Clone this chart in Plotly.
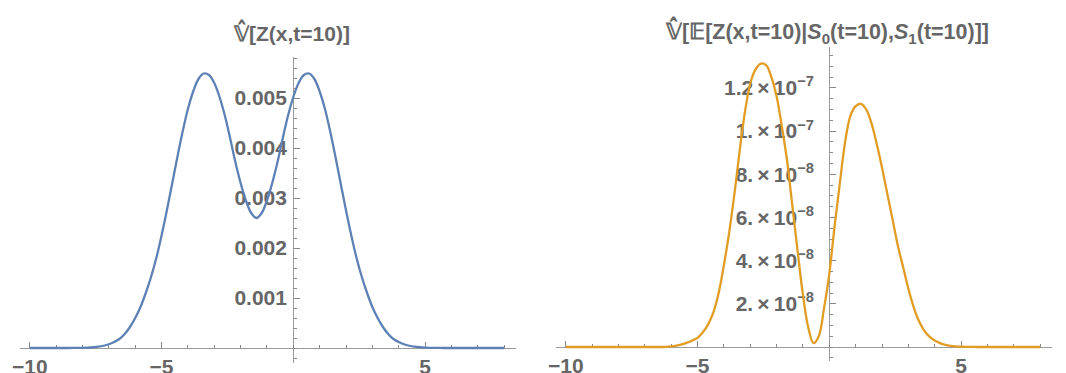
import plotly.graph_objects as go

# sampling grid in x (step 0.2 from -10 to 8)
x_grid = [round(-10 + 0.2 * i, 1) for i in range(91)]

# left panel: variance of Z(x, t=10), values in units of 1e-3
left_e3 = [0, 0, 0, 0, 0, 0, 0, 0,
           0.001, 0.002, 0.004, 0.008, 0.015, 0.026, 0.045, 0.075, 0.12, 0.18,
           0.28, 0.42, 0.60, 0.82, 1.10, 1.42, 1.80, 2.25, 2.75, 3.28,
           3.82, 4.33, 4.78, 5.13, 5.38, 5.49, 5.46, 5.30, 5.02, 4.65,
           4.20, 3.72, 3.30, 2.95, 2.70, 2.60, 2.70, 2.95, 3.30, 3.72,
           4.20, 4.65, 5.02, 5.30, 5.46, 5.49, 5.38, 5.13, 4.78, 4.33,
           3.82, 3.28, 2.75, 2.25, 1.80, 1.42, 1.10, 0.82, 0.60, 0.42,
           0.28, 0.18, 0.12, 0.075, 0.045, 0.026, 0.015, 0.008, 0.004, 0.002,
           0.001,
           0, 0, 0, 0, 0, 0, 0, 0, 0, 0, 0, 0]

# right panel: variance of conditional expectation, values in units of 1e-8
right_e8 = [0] * 19 + [
    0.01, 0.03, 0.06, 0.12, 0.2, 0.3, 0.42,
    0.68, 1.05, 1.6, 2.5, 3.8, 5.3, 7.1, 9.1, 10.9, 12.2,
    12.85, 13.12, 13.05, 12.5, 11.6, 10.2, 8.6, 6.5, 4.4, 2.4,
    0.9, 0.18, 0.5, 1.8, 3.4, 5.6, 7.6, 9.5, 10.7, 11.15,
    11.26, 11.0, 10.35, 9.4, 8.3, 7.1, 5.9, 4.7, 3.7, 2.7,
    1.85, 1.2, 0.76, 0.48, 0.3, 0.18, 0.1, 0.055, 0.03, 0.015,
    0.007, 0.003] + [0] * 13

left_y = [v * 1e-3 for v in left_e3]
right_y = [v * 1e-8 for v in right_e8]

x_ticks = [-10, -5, 5]
x_ticktext = ["\u221210", "\u22125", "5"]
left_yticks = [0.001, 0.002, 0.003, 0.004, 0.005]
left_yticktext = ["0.001", "0.002", "0.003", "0.004", "0.005"]
right_yticks = [2e-8, 4e-8, 6e-8, 8e-8, 1e-7, 1.2e-7]
right_yticktext = ["2.\u2009\u00d7\u200910<sup>\u22128</sup>", "4.\u2009\u00d7\u200910<sup>\u22128</sup>",
                   "6.\u2009\u00d7\u200910<sup>\u22128</sup>", "8.\u2009\u00d7\u200910<sup>\u22128</sup>",
                   "1.\u2009\u00d7\u200910<sup>\u22127</sup>", "1.2\u2009\u00d7\u200910<sup>\u22127</sup>"]

W, H = 1066, 373
GRAY = "#666666"
AX = "#9a9a9a"
FONT = "Liberation Sans, Arial, sans-serif"

fig = go.Figure()
fig.add_trace(go.Scatter(x=x_grid, y=left_y, mode="lines",
                         line=dict(color="#5E81B5", width=2.3, shape="spline", smoothing=1.0),
                         xaxis="x", yaxis="y", showlegend=False))
fig.add_trace(go.Scatter(x=x_grid, y=right_y, mode="lines",
                         line=dict(color="#E19C24", width=2.3, shape="spline", smoothing=1.0),
                         xaxis="x2", yaxis="y2", showlegend=False))

tickfont = dict(family=FONT, size=21, color=GRAY, weight="bold")

def xaxis_cfg(domain, pos):
    return dict(domain=domain, range=[-10.38, 8.45], anchor="free", position=pos,
                automargin=False,
                showgrid=False, zeroline=False, showline=True, linecolor=AX, linewidth=1.3,
                ticks="inside", ticklen=6, tickwidth=1.2, tickcolor="#888888",
                tickvals=x_ticks, ticktext=x_ticktext, tickfont=tickfont, ticklabelstandoff=0,
                minor=dict(dtick=1, tick0=0, ticks="inside", ticklen=3, tickcolor="#888888", tickwidth=1),
                layer="below traces", fixedrange=True)

def yaxis_cfg(domain, rng, pos, tv, tt, mdt, standoff):
    return dict(domain=domain, range=rng, anchor="free", position=pos,
                automargin=False,
                showgrid=False, zeroline=False, showline=True, linecolor=AX, linewidth=1.3,
                ticks="inside", ticklen=6, tickwidth=1.2, tickcolor="#888888",
                tickvals=tv, ticktext=tt, tickfont=tickfont, ticklabelstandoff=standoff,
                minor=dict(dtick=mdt, tick0=0, ticks="inside", ticklen=3, tickcolor="#888888", tickwidth=1),
                layer="below traces", fixedrange=True)

fig.update_layout(
    width=W, height=H, margin=dict(l=0, r=0, t=0, b=0, autoexpand=False),
    paper_bgcolor="white", plot_bgcolor="white",
    xaxis=xaxis_cfg([19.8 / W, 516 / W], (H - 348) / H),
    yaxis=yaxis_cfg([(H - 362.7) / H, (H - 56.7) / H], [-0.000294, 0.005826], 293.3 / W,
                    left_yticks, left_yticktext, 0.0002, 2),
    xaxis2=xaxis_cfg([555.8 / W, 1052 / W], (H - 347) / H),
    yaxis2=yaxis_cfg([(H - 361) / H, (H - 47) / H], [-0.648e-8, 13.89e-8], 829.3 / W,
                     right_yticks, right_yticktext, 0.5e-8, 11),
)

fig.add_annotation(text="\U0001D54D\u0302[Z(x,t=10)]", xref="paper", yref="paper",
                   x=291 / W, y=(H - 32) / H, showarrow=False,
                   font=dict(family=FONT, size=21, color=GRAY, weight="bold"),
                   xanchor="center", yanchor="middle")
fig.add_annotation(text="\U0001D54D\u0302[\U0001D53C[Z(x,t=10)|<i>S</i><sub>0</sub>(t=10),<i>S</i><sub>1</sub>(t=10)]]",
                   xref="paper", yref="paper",
                   x=827 / W, y=(H - 32) / H, showarrow=False,
                   font=dict(family=FONT, size=21.5, color=GRAY, weight="bold"),
                   xanchor="center", yanchor="middle")
fig.add_annotation(text="x", xref="x", yref="y", x=8.95, y=0, showarrow=False,
                   font=dict(family=FONT, size=21, color=GRAY, weight="bold"),
                   xanchor="center", yanchor="middle")
fig.add_annotation(text="x", xref="x2", yref="y2", x=8.98, y=0, showarrow=False,
                   font=dict(family=FONT, size=21, color=GRAY, weight="bold"),
                   xanchor="center", yanchor="middle")

fig.write_html("out.html", config={"displayModeBar": False},
               post_script="document.body.style.margin='0';document.body.style.overflow='hidden';")
